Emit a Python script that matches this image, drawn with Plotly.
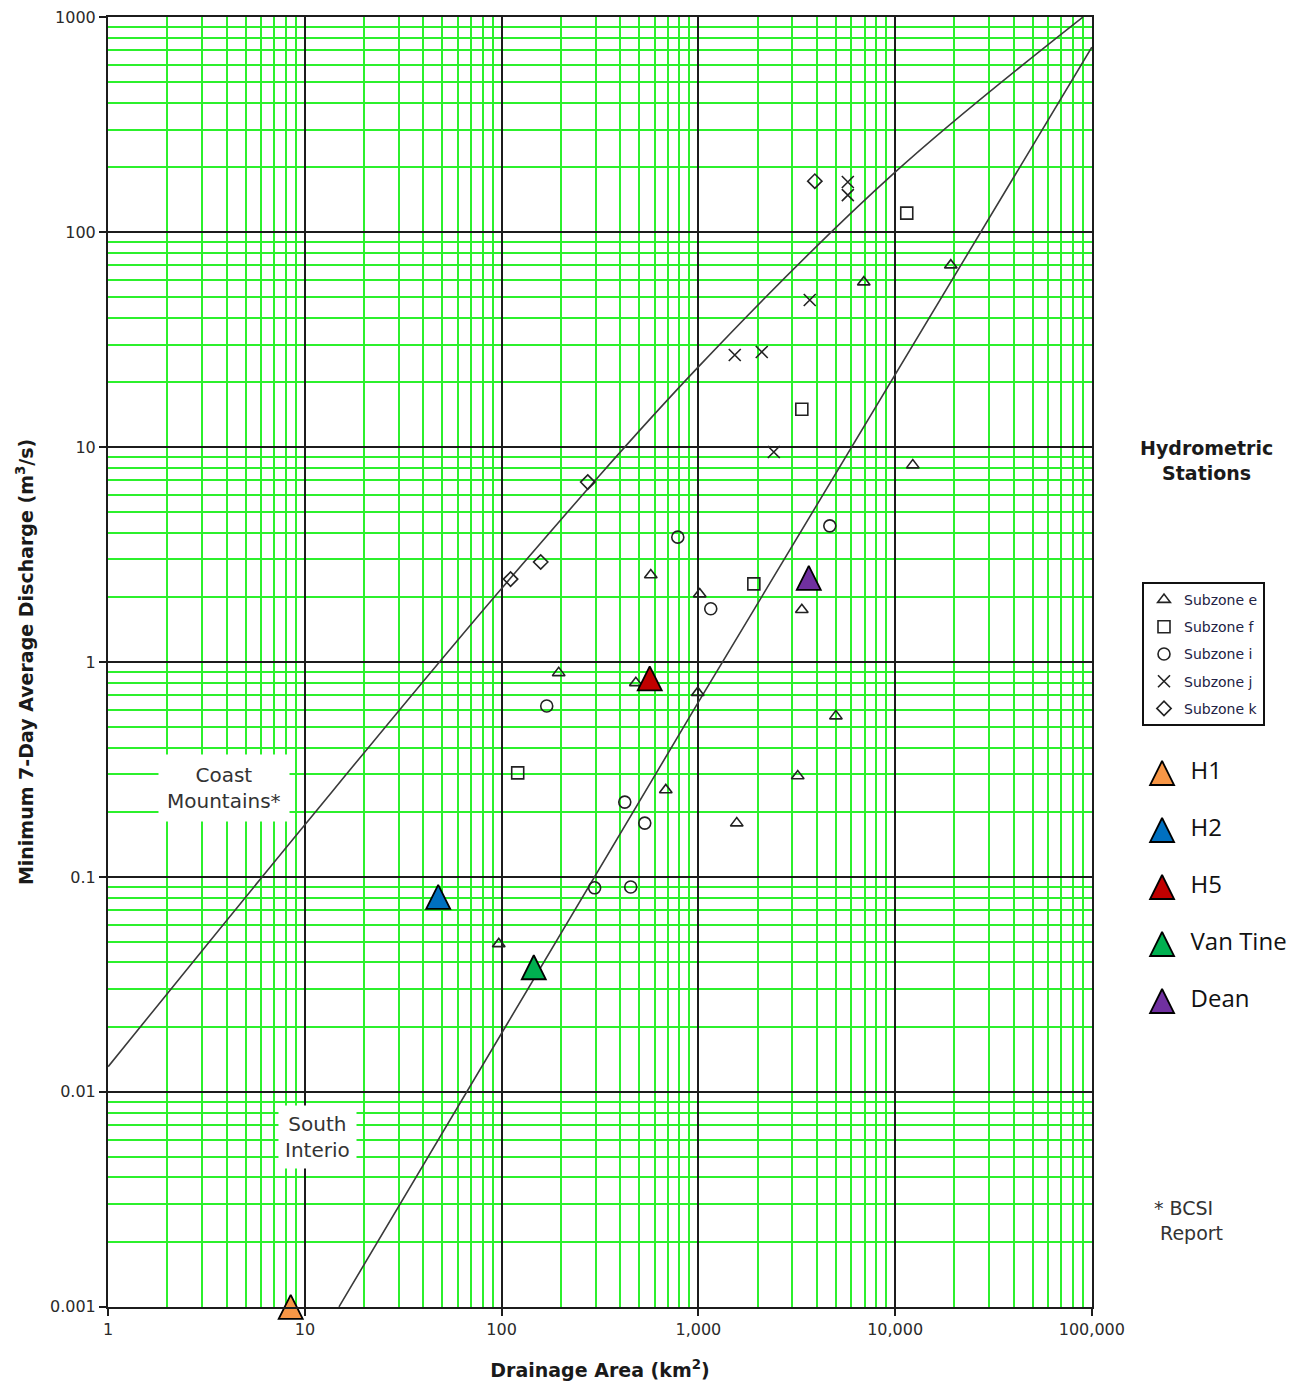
import plotly.graph_objects as go

# ---------------- data ----------------
# Subzone e (open triangles)
e_area = [6930, 19190, 12300, 573, 1016, 3356, 195, 481, 993, 5000, 683, 3200, 1567, 96.7]
e_q = [58.5, 70.2, 8.24, 2.54, 2.07, 1.75, 0.89, 0.80, 0.72, 0.56, 0.254, 0.295, 0.178, 0.0488]
# Subzone f (open squares)
f_area = [11460, 3356, 1914, 120.7]
f_q = [122.5, 15.0, 2.31, 0.305]
# Subzone i (open circles)
i_area = [786, 4657, 1156, 169.5, 422.6, 534, 297, 453]
i_q = [3.81, 4.30, 1.77, 0.624, 0.223, 0.178, 0.089, 0.0898]
# Subzone j (crosses)
j_area = [5750, 5750, 3683, 1531, 2100, 2417]
j_q = [171, 148.6, 48.3, 26.8, 27.7, 9.48]
# Subzone k (open diamonds)
k_area = [3908, 274, 158, 111]
k_q = [172.6, 6.87, 2.92, 2.43]

# Highlighted sites
site_names = ["H1", "H2", "H5", "Van Tine", "Dean"]
site_area = [8.47, 47.6, 566, 145.7, 3641]
site_q = [0.001, 0.0807, 0.84, 0.038, 2.46]
site_colors = ["#f79646", "#0070c0", "#c00000", "#00b050", "#7030a0"]

# Regional curves
coast_area = [1, 10, 100, 1000, 10000, 90000]
coast_q = [0.0131, 0.175, 2.2, 23.6, 190, 1000]
south_area = [14.9, 1000, 100000]
south_q = [0.001, 0.65, 725]

# Axis ticks
x_tickvals = [1, 10, 100, 1000, 10000, 100000]
x_ticktext = ["1", "10", "100", "1,000", "10,000", "100,000"]
y_tickvals = [0.001, 0.01, 0.1, 1, 10, 100, 1000]
y_ticktext = ["0.001", "0.01", "0.1", "1", "10", "100", "1000"]
x_minor = [d * 10 ** k for k in range(0, 5) for d in range(2, 10)]
y_minor = [d * 10.0 ** k for k in range(-3, 3) for d in range(2, 10)]

# ---------------- layout geometry ----------------
W, H = 1293, 1376           # page has an 8px body margin
ML, MR, MT, MB = 100, 0, 9, 77
PAPER_W = W - ML - MR       # 1193
PLOT_FRAC = 984 / PAPER_W   # main plot spans 984 px
KEY_DOM = [0.83, 1.0]       # helper axis for the site key (right margin area)
ROW_PX = 57                 # spacing of key rows
FIRST_ROW_PX = 773 - 17     # first key row, px below top of paper
PAPER_H = H - MT - MB       # 1290
key_range = [(PAPER_H - FIRST_ROW_PX) / ROW_PX, -FIRST_ROW_PX / ROW_PX]
KEY_X = 0.315
EPS = 0.0008                # tiny pad so the edge ticks / edge marker survive

# ---------------- figure ----------------
fig = go.Figure()

LINE = "#3a3a3a"
fig.add_trace(go.Scatter(x=coast_area, y=coast_q, mode="lines", line=dict(color=LINE, width=1.6, shape="spline"),
                         showlegend=False, hoverinfo="skip"))
fig.add_trace(go.Scatter(x=south_area, y=south_q, mode="lines", line=dict(color=LINE, width=1.6),
                         showlegend=False, hoverinfo="skip"))

sub_specs = [
    ("Subzone e", e_area, e_q, "triangle-up-open", 11),
    ("Subzone f", f_area, f_q, "square-open", 12),
    ("Subzone i", i_area, i_q, "circle-open", 12),
    ("Subzone j", j_area, j_q, "x-thin-open", 12),
    ("Subzone k", k_area, k_q, "diamond-open", 11),
]
for name, xs, ys, sym, sz in sub_specs:
    fig.add_trace(go.Scatter(
        x=xs, y=ys, mode="markers", name=name, legendgroup=name,
        marker=dict(symbol=sym, size=sz, color="#222222", line=dict(width=1.6, color="#222222")),
    ))

tri = dict(symbol="arrow-down", angle=180, standoff=12, size=24)
for name, xv, yv, col in zip(site_names, site_area, site_q, site_colors):
    fig.add_trace(go.Scatter(
        x=[xv], y=[yv], mode="markers", name=name, showlegend=False, cliponaxis=False,
        marker=dict(color=col, line=dict(width=1.8, color="#000000"), **tri),
    ))

# site key (drawn on a hidden helper axis in the right margin)
for idx, (name, col) in enumerate(zip(site_names, site_colors)):
    fig.add_trace(go.Scatter(
        x=[KEY_X], y=[idx], mode="markers+text", text=["  " + name], textposition="middle right",
        textfont=dict(family="Open Sans", size=24, color="#111111"),
        xaxis="x2", yaxis="y2", showlegend=False, hoverinfo="skip", cliponaxis=False,
        marker=dict(color=col, line=dict(width=1.8, color="#000000"), **tri),
    ))

GREEN = "#2cf02c"
BLACK = "#1c1c1c"
TICKFONT = dict(family="DejaVu Sans", size=16, color="#2a2a2a")

fig.update_layout(
    xaxis=dict(
        domain=[0, PLOT_FRAC],
        type="log", range=[0 - EPS, 5 + EPS],
        tickmode="array", tickvals=x_tickvals, ticktext=x_ticktext,
        ticks="outside", ticklen=7, tickwidth=2, tickcolor=BLACK,
        tickfont=TICKFONT, ticklabeloverflow="allow",
        showgrid=True, gridcolor=BLACK, gridwidth=2,
        minor=dict(tickmode="array", tickvals=x_minor, showgrid=True, gridcolor=GREEN, gridwidth=1.5, ticks=""),
        showline=True, linecolor=BLACK, linewidth=2, mirror=True,
        title=dict(text="Drainage Area (km<sup>2</sup>)",
                   font=dict(family="DejaVu Sans", size=19, color="#1a1a1a", weight="bold"), standoff=25),
        zeroline=False,
    ),
    yaxis=dict(
        type="log", range=[-3 - EPS, 3 + EPS],
        tickmode="array", tickvals=y_tickvals, ticktext=y_ticktext,
        ticks="outside", ticklen=7, tickwidth=2, tickcolor=BLACK,
        tickfont=TICKFONT, ticklabeloverflow="allow",
        showgrid=True, gridcolor=BLACK, gridwidth=2,
        minor=dict(tickmode="array", tickvals=y_minor, showgrid=True, gridcolor=GREEN, gridwidth=1.5, ticks=""),
        showline=True, linecolor=BLACK, linewidth=2, mirror=True,
        title=dict(text="Minimum 7-Day Average Discharge (m<sup>3</sup>/s)",
                   font=dict(family="DejaVu Sans", size=19, color="#1a1a1a", weight="bold"), standoff=11),
        zeroline=False,
    ),
    xaxis2=dict(domain=KEY_DOM, range=[0, 1], anchor="y2", visible=False, fixedrange=True),
    yaxis2=dict(domain=[0, 1], range=key_range, anchor="x2", visible=False, fixedrange=True),
    width=W, height=H,
    margin=dict(l=ML, r=MR, t=MT, b=MB, autoexpand=False),
    paper_bgcolor="white", plot_bgcolor="white",
    showlegend=True,
    legend=dict(
        x=(1142 - 108) / PAPER_W, y=(1307 - 582) / PAPER_H, xanchor="left", yanchor="top",
        bordercolor="#111111", borderwidth=2, bgcolor="white",
        font=dict(family="DejaVu Sans", size=14, color="#222244"),
        traceorder="grouped", tracegroupgap=6, itemclick=False, itemdoubleclick=False,
    ),
    annotations=[
        dict(text="Coast<br>Mountains*", xref="paper", yref="paper",
             x=(224 - 108) / PAPER_W, y=(1307 - 788) / PAPER_H, xanchor="center", yanchor="middle",
             showarrow=False, bgcolor="white", borderpad=8,
             font=dict(family="DejaVu Sans", size=20, color="#333333")),
        dict(text="South<br>Interio", xref="paper", yref="paper",
             x=(317 - 108) / PAPER_W, y=(1307 - 1137) / PAPER_H, xanchor="center", yanchor="middle",
             showarrow=False, bgcolor="white", borderpad=6,
             font=dict(family="DejaVu Sans", size=20, color="#333333")),
        dict(text="<b>Hydrometric<br>Stations</b>", xref="paper", yref="paper",
             x=(1206 - 108) / PAPER_W, y=(1307 - 460) / PAPER_H, xanchor="center", yanchor="middle",
             showarrow=False, font=dict(family="DejaVu Sans", size=19, color="#1a1a1a")),
        dict(text="* BCSI<br> Report", xref="paper", yref="paper",
             x=(1188 - 108) / PAPER_W, y=(1307 - 1220) / PAPER_H, xanchor="center", yanchor="middle",
             showarrow=False, align="left", font=dict(family="DejaVu Sans", size=19, color="#333333")),
    ],
)

fig.write_html("out.html")
